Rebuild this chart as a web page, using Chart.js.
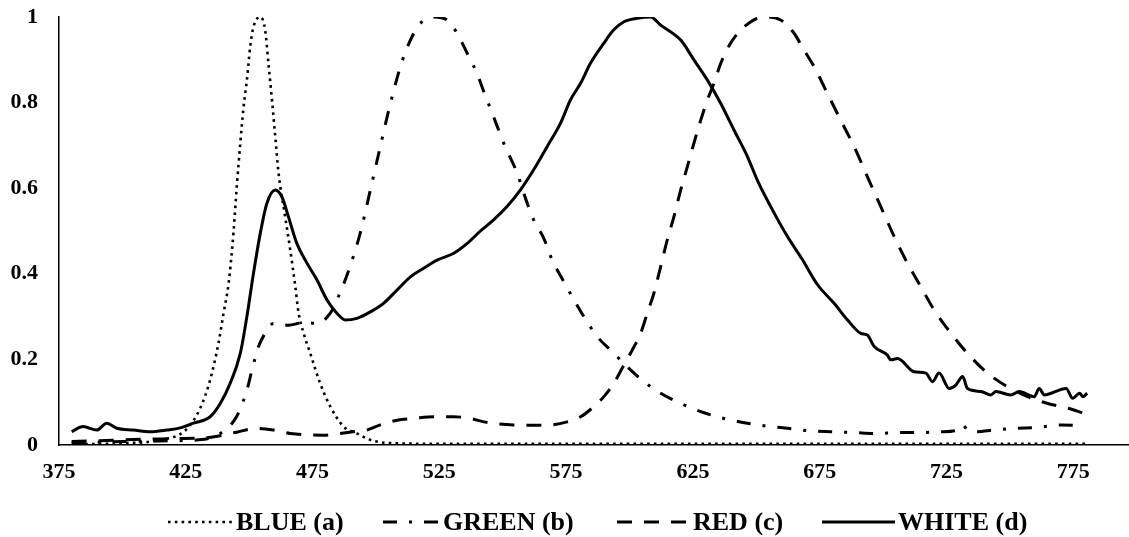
<!DOCTYPE html>
<html>
<head>
<meta charset="utf-8">
<script src="https://cdn.jsdelivr.net/npm/chart.js@4.4.1/dist/chart.umd.min.js"></script>
<style>
  html, body { margin: 0; padding: 0; background: #fff; }
  #c { display: block; }
</style>
</head>
<body>
<canvas id="c" width="1129" height="537"></canvas>
<script>
// ---- data (wavelength nm, normalized intensity) ----
const xTickValues = [375, 425, 475, 525, 575, 625, 675, 725, 775];
const yTickStep = 0.2;
const seriesLabels = ['BLUE (a)', 'GREEN (b)', 'RED (c)', 'WHITE (d)'];

const blueNm  = [380, 400, 415, 425, 430.7, 434.6, 437.9, 439.9, 441.9, 443.8, 445.1, 446.5, 447.8, 449.1, 450.4, 451.7, 454.4, 456.3, 457.6, 459, 460.3, 461.6, 464.2, 466.2, 468.2, 469.5, 471.5, 474.1, 478, 482, 487.2, 492.5, 497.8, 504, 520, 600, 700, 780];
const blueVal = [0.002, 0.004, 0.012, 0.035, 0.086, 0.152, 0.238, 0.308, 0.378, 0.495, 0.603, 0.705, 0.79, 0.853, 0.93, 0.977, 1.0, 0.97, 0.892, 0.806, 0.72, 0.635, 0.533, 0.456, 0.37, 0.308, 0.261, 0.214, 0.144, 0.09, 0.043, 0.027, 0.012, 0.005, 0.003, 0.003, 0.003, 0.003];

const greenNm  = [380, 400, 420, 430, 438, 445, 449.1, 451.1, 453.7, 456.3, 459.6, 465.5, 471.5, 476.7, 482, 484.6, 488.6, 493.8, 497.8, 501.7, 505.7, 510.3, 514.9, 518.2, 522.8, 528.1, 532, 536, 540, 542.5, 546.4, 550.4, 555.7, 559, 562.2, 566.2, 569.5, 573.4, 578.1, 582, 587.3, 593.2, 599.1, 605.7, 612.3, 620.2, 628.1, 637.3, 646.5, 654.4, 662.3, 671.5, 679.4, 688.6, 697.8, 705.7, 713.6, 722.8, 729.4, 731.4, 733.3, 736, 743.9, 751.8, 761, 770.2, 779.4];
const greenVal = [0.005, 0.008, 0.01, 0.012, 0.025, 0.066, 0.128, 0.175, 0.23, 0.261, 0.284, 0.28, 0.286, 0.284, 0.308, 0.339, 0.397, 0.495, 0.596, 0.697, 0.798, 0.896, 0.962, 0.989, 1.0, 0.993, 0.962, 0.915, 0.866, 0.826, 0.767, 0.705, 0.635, 0.576, 0.526, 0.483, 0.432, 0.389, 0.339, 0.3, 0.253, 0.218, 0.183, 0.148, 0.121, 0.097, 0.078, 0.062, 0.051, 0.044, 0.039, 0.033, 0.031, 0.029, 0.027, 0.029, 0.029, 0.031, 0.035, 0.047, 0.035, 0.031, 0.035, 0.039, 0.041, 0.047, 0.044];

const redNm  = [380, 400, 420, 435, 445, 453, 459.6, 466.2, 479.3, 486, 491, 496.5, 501.7, 508.3, 514.9, 522.8, 530.7, 537.3, 542.5, 554.4, 566.2, 575.4, 580.7, 586, 589.9, 593.8, 597.8, 601.1, 604.4, 607, 609.6, 612.3, 614.9, 617.5, 620.2, 622.8, 625.4, 628.1, 630.7, 633.3, 636, 639.9, 645.2, 653, 659.6, 664.9, 668.8, 672.8, 678, 683.3, 688.6, 693.8, 699.1, 704.4, 709.6, 714.9, 720.2, 726.8, 733.3, 741.2, 749.1, 757, 764.9, 772.8, 779.4];
const redVal = [0.008, 0.012, 0.015, 0.018, 0.03, 0.039, 0.035, 0.027, 0.023, 0.027, 0.031, 0.035, 0.047, 0.058, 0.062, 0.066, 0.066, 0.062, 0.054, 0.047, 0.046, 0.054, 0.066, 0.09, 0.113, 0.144, 0.187, 0.222, 0.261, 0.308, 0.354, 0.417, 0.479, 0.533, 0.596, 0.65, 0.705, 0.759, 0.806, 0.845, 0.892, 0.939, 0.977, 1.0, 0.993, 0.962, 0.923, 0.884, 0.822, 0.759, 0.697, 0.627, 0.557, 0.487, 0.425, 0.37, 0.315, 0.261, 0.214, 0.168, 0.136, 0.113, 0.097, 0.086, 0.074];

const whiteNm  = [380, 384.5, 389.9, 393.8, 397.8, 404.3, 411, 417.5, 422.8, 428, 434.6, 438.6, 442.5, 446.5, 449.1, 451.7, 454.4, 457, 460.3, 462.9, 465.5, 468.8, 472.8, 476.7, 480.7, 484.6, 487.9, 492.5, 497.8, 503, 508.3, 513.6, 518.8, 524.1, 530.7, 536, 541.2, 546.4, 551.7, 557, 562.2, 567.5, 572.8, 576.7, 580.7, 584.6, 589.9, 593.8, 597.8, 603, 608.3, 612.3, 620.2, 625.4, 630.7, 636, 641.2, 646.5, 650.4, 655.7, 662.3, 668, 674.1, 680.7, 686, 691.2, 693.8, 696.5, 701.7, 703, 705.7, 712.3, 716.9, 719.5, 722.1, 726.1, 728.7, 731.4, 733.3, 738.6, 742.5, 744.5, 750.4, 753.7, 759.6, 761.6, 763.6, 772.2, 774.8, 777.5, 778.8, 780.5];
const whiteVal = [0.031, 0.043, 0.035, 0.051, 0.039, 0.035, 0.031, 0.035, 0.04, 0.051, 0.066, 0.097, 0.144, 0.214, 0.3, 0.401, 0.495, 0.565, 0.596, 0.58, 0.533, 0.471, 0.425, 0.386, 0.339, 0.308, 0.292, 0.296, 0.311, 0.331, 0.362, 0.393, 0.413, 0.432, 0.448, 0.471, 0.5, 0.526, 0.557, 0.596, 0.643, 0.697, 0.752, 0.806, 0.845, 0.892, 0.939, 0.97, 0.989, 0.997, 1.0, 0.981, 0.946, 0.9, 0.853, 0.798, 0.736, 0.674, 0.619, 0.557, 0.487, 0.435, 0.375, 0.331, 0.292, 0.261, 0.257, 0.23, 0.21, 0.199, 0.202, 0.171, 0.168, 0.148, 0.168, 0.132, 0.14, 0.16, 0.132, 0.125, 0.117, 0.125, 0.117, 0.125, 0.113, 0.132, 0.117, 0.132, 0.109, 0.121, 0.113, 0.121];

// ---- helpers ----
const pts = (xs, ys) => xs.map((x, i) => ({ x: x, y: ys[i] }));
const FONT = '"Liberation Serif", "Times New Roman", serif';

const styles = [
  { borderWidth: 2.6, borderDash: [2.6, 4.2], borderCapStyle: 'butt' },
  { borderWidth: 3, borderDash: [14, 12, 3, 12], borderCapStyle: 'butt' },
  { borderWidth: 3, borderDash: [15, 12], borderCapStyle: 'butt' },
  { borderWidth: 3, borderDash: [], borderCapStyle: 'butt' }
];
const seriesData = [pts(blueNm, blueVal), pts(greenNm, greenVal), pts(redNm, redVal), pts(whiteNm, whiteVal)];

const datasets = seriesLabels.map((lab, i) => Object.assign({
  label: lab,
  data: seriesData[i],
  borderColor: '#000',
  backgroundColor: '#000',
  pointRadius: 0,
  fill: false,
  cubicInterpolationMode: 'monotone',
  borderJoinStyle: 'round'
}, styles[i]));

// custom legend drawn below the plot
const legendLayout = [
  { x0: 168, x1: 233, tx: 236 },
  { x0: 383, x1: 440, tx: 443 },
  { x0: 617, x1: 689, tx: 693 },
  { x0: 822, x1: 895, tx: 898 }
];
const legendPlugin = {
  id: 'lineLegend',
  afterDraw(chart) {
    const ctx = chart.ctx;
    const y = 522;
    chart.data.datasets.forEach((ds, i) => {
      const L = legendLayout[i];
      ctx.save();
      ctx.strokeStyle = ds.borderColor;
      ctx.lineWidth = ds.borderWidth;
      ctx.lineCap = ds.borderCapStyle;
      ctx.setLineDash(ds.borderDash || []);
      ctx.beginPath();
      ctx.moveTo(L.x0, y);
      ctx.lineTo(L.x1, y);
      ctx.stroke();
      ctx.setLineDash([]);
      ctx.fillStyle = '#000';
      ctx.font = 'bold 26px ' + FONT;
      ctx.textBaseline = 'middle';
      ctx.textAlign = 'left';
      ctx.fillText(ds.label, L.tx, y + 1);
      ctx.restore();
    });
  }
};

new Chart(document.getElementById('c'), {
  type: 'line',
  data: { datasets: datasets },
  plugins: [legendPlugin],
  options: {
    responsive: false,
    animation: false,
    devicePixelRatio: 1,
    layout: { padding: { top: 17, bottom: 52, left: 0, right: 0 } },
    plugins: { legend: { display: false }, tooltip: { enabled: false } },
    scales: {
      x: {
        type: 'linear',
        min: 375,
        max: 797,
        afterBuildTicks: s => { s.ticks = xTickValues.map(v => ({ value: v })); },
        afterFit: s => { s.height = 40; s.paddingLeft = 0; s.paddingRight = 0; },
        ticks: {
          autoSkip: false, maxRotation: 0, minRotation: 0, padding: 14,
          color: '#000', font: { family: FONT, size: 22, weight: 'bold' },
          callback: v => String(v)
        },
        grid: { display: false, drawTicks: false },
        border: { display: true, color: '#000', width: 1.5 }
      },
      y: {
        min: 0,
        max: 1,
        afterFit: s => { s.width = 59; s.paddingTop = 0; s.paddingBottom = 0; },
        ticks: {
          stepSize: yTickStep, padding: 21,
          color: '#000', font: { family: FONT, size: 22, weight: 'bold' },
          callback: v => String(Math.round(v * 10) / 10)
        },
        grid: { display: false, drawTicks: false },
        border: { display: true, color: '#000', width: 1.5 }
      }
    }
  }
});
</script>
</body>
</html>
